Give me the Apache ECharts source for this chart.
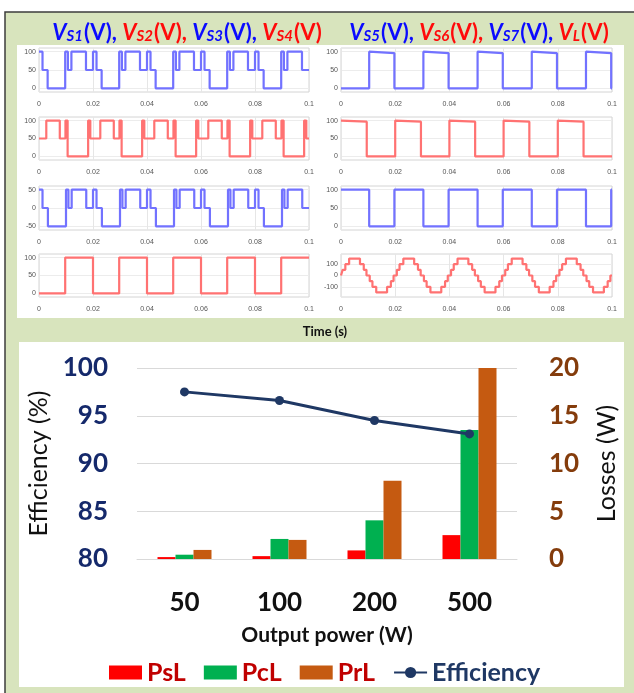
<!DOCTYPE html>
<html>
<head>
<meta charset="utf-8">
<script src="https://cdn.jsdelivr.net/npm/echarts@6.0.0/dist/echarts.min.js"></script>
<style>
  html, body { margin: 0; padding: 0; background: #fff; }
  #chart { width: 634px; height: 693px; }
</style>
</head>
<body>
<div id="chart"></div>
<script>
// ---- waveform data: one 20 ms period each, [time (s), voltage (V)] ----
const PERIOD = 0.02;
const CYCLES = 5;

const vs1Period = [[0, 100], [0.0013, 100], [0.0013, 50], [0.0032, 50], [0.0032, 0], [0.0097, 0], [0.0097, 100],
  [0.0107, 100], [0.0107, 50], [0.0120, 50], [0.0120, 100], [0.0174, 100], [0.0174, 50], [0.0200, 50]];
const vs2Period = [[0, 50], [0.0027, 50], [0.0027, 100], [0.0077, 100], [0.0077, 50], [0.0098, 50], [0.0098, 100],
  [0.0106, 100], [0.0106, 0], [0.0182, 0], [0.0182, 100], [0.0190, 100], [0.0190, 50], [0.0200, 50]];
const vs3Period = [[0, 50], [0.0013, 50], [0.0013, 0], [0.0033, 0], [0.0033, -50], [0.0100, -50], [0.0100, 50],
  [0.0109, 50], [0.0109, 0], [0.0121, 0], [0.0121, 50], [0.0175, 50], [0.0175, 0], [0.0200, 0]];
const vs4Period = [[0, 0], [0.0097, 0], [0.0097, 100], [0.0200, 100]];
const vs5Period = [[0, 0], [0.0104, 0], [0.0104, 100], [0.0197, 96], [0.0197, 0], [0.0200, 0]];
const vs6Period = [[0, 100], [0.0095, 97], [0.0095, 0], [0.0200, 0]];
const vs7Period = [[0, 100], [0.0104, 100], [0.0104, 0], [0.0197, 0], [0.0197, 100], [0.0200, 100]];
const vlPeriod = [[0, 0], [0.0006, 0], [0.0006, 50], [0.0016, 50], [0.0016, 100], [0.0030, 100], [0.0030, 150],
  [0.0070, 150], [0.0070, 100], [0.0084, 100], [0.0084, 50], [0.0094, 50], [0.0094, 0], [0.0106, 0],
  [0.0106, -50], [0.0116, -50], [0.0116, -100], [0.0130, -100], [0.0130, -150], [0.0170, -150],
  [0.0170, -100], [0.0184, -100], [0.0184, -50], [0.0194, -50], [0.0194, 0], [0.0200, 0]];

const ticks100 = [0, 50, 100];
const ticks50 = [-50, 0, 50];
const ticksVL = [-100, 0, 100];

// ---- efficiency / losses data ----
const powerLabels = ['50', '100', '200', '500'];
const psl = [0.2, 0.3, 0.9, 2.5];
const pcl = [0.45, 2.1, 4.05, 13.5];
const prl = [0.95, 2.0, 8.2, 20];
const efficiency = [97.5, 96.6, 94.5, 93.1];

const BLUE = '#7272ff';
const RED = '#ff7272';
const FONT = 'Lato, "Open Sans", sans-serif';

function repeatPeriod(pts) {
  const out = [];
  for (let k = 0; k < CYCLES; k++) {
    pts.forEach(p => out.push([+(p[0] + k * PERIOD).toFixed(5), p[1]]));
  }
  return out;
}

const panels = [
  { data: vs1Period, color: BLUE, col: 0, row: 0, min: -10, max: 110, ticks: ticks100 },
  { data: vs2Period, color: RED, col: 0, row: 1, min: -10, max: 110, ticks: ticks100 },
  { data: vs3Period, color: BLUE, col: 0, row: 2, min: -60, max: 60, ticks: ticks50 },
  { data: vs4Period, color: RED, col: 0, row: 3, min: -10, max: 110, ticks: ticks100 },
  { data: vs5Period, color: BLUE, col: 1, row: 0, min: -10, max: 110, ticks: ticks100 },
  { data: vs6Period, color: RED, col: 1, row: 1, min: -10, max: 110, ticks: ticks100 },
  { data: vs7Period, color: BLUE, col: 1, row: 2, min: -10, max: 110, ticks: ticks100 },
  { data: vlPeriod, color: RED, col: 1, row: 3, min: -190, max: 190, ticks: ticksVL }
];

const colLeft = [39, 341];
const colWidth = [270, 271];
const rowTop = [48, 117, 186, 254];
const rowHeight = [44, 43, 44, 43];

const grid = [], xAxis = [], yAxis = [], series = [];
const tickFont = { fontSize: 7, color: '#555', fontFamily: 'Arial, sans-serif' };

panels.forEach((p, i) => {
  grid.push({
    left: colLeft[p.col], width: colWidth[p.col], top: rowTop[p.row], height: rowHeight[p.row],
    show: true, borderColor: '#d4d4d4', borderWidth: 1, backgroundColor: '#fff'
  });
  xAxis.push({
    type: 'value', gridIndex: i, min: 0, max: 0.1, interval: 0.02,
    axisLine: { show: false }, axisTick: { show: false },
    axisLabel: Object.assign({ margin: 9 }, tickFont),
    splitLine: { lineStyle: { color: '#e6e6e6' } }
  });
  yAxis.push({
    type: 'value', gridIndex: i, min: p.min, max: p.max,
    axisLine: { show: false },
    axisTick: { show: false, customValues: p.ticks },
    axisLabel: Object.assign({ margin: 3, customValues: p.ticks }, tickFont),
    splitLine: { lineStyle: { color: '#ececec' } }
  });
  series.push({
    type: 'line', xAxisIndex: i, yAxisIndex: i, data: repeatPeriod(p.data),
    showSymbol: false, animation: false, silent: true,
    lineStyle: { color: p.color, width: 2.2 }
  });
});

// bottom chart
const G = panels.length;
grid.push({ left: 137, right: 117, top: 368, bottom: 134 });
xAxis.push({
  type: 'category', gridIndex: G, data: powerLabels,
  axisLine: { lineStyle: { color: '#d9d9d9' } }, axisTick: { show: false },
  axisLabel: { fontSize: 26, fontWeight: 'bold', color: '#111', fontFamily: FONT, margin: 31 },
  name: 'Output power (W)', nameLocation: 'middle', nameGap: 66,
  nameTextStyle: { fontSize: 21, fontWeight: 'bold', color: '#111', fontFamily: FONT }
});
yAxis.push({
  type: 'value', gridIndex: G, min: 80, max: 100, interval: 5,
  axisLine: { show: false }, axisTick: { show: false },
  axisLabel: { fontSize: 26, fontWeight: 'bold', color: '#15296b', fontFamily: FONT, margin: 29 },
  splitLine: { lineStyle: { color: '#d9d9d9', width: 1 } },
  name: 'Efficiency (%)', nameLocation: 'middle', nameGap: 84, nameRotate: 90,
  nameTextStyle: { fontSize: 25, color: '#111', fontFamily: FONT }
});
yAxis.push({
  type: 'value', gridIndex: G, min: 0, max: 20, interval: 5, position: 'right',
  axisLine: { show: false }, axisTick: { show: false },
  axisLabel: { fontSize: 26, fontWeight: 'bold', color: '#843c0c', fontFamily: FONT, margin: 32 },
  splitLine: { show: false },
  name: 'Losses (W)', nameLocation: 'middle', nameGap: 77, nameRotate: 90,
  nameTextStyle: { fontSize: 25, color: '#111', fontFamily: FONT }
});
const barCommon = { type: 'bar', xAxisIndex: G, yAxisIndex: G + 1, barWidth: 18, barGap: '0%', animation: false };
series.push(Object.assign({ name: 'PsL', data: psl, itemStyle: { color: '#ff0000' } }, barCommon));
series.push(Object.assign({ name: 'PcL', data: pcl, itemStyle: { color: '#00b050' } }, barCommon));
series.push(Object.assign({ name: 'PrL', data: prl, itemStyle: { color: '#c55a11' } }, barCommon));
series.push({
  name: 'Efficiency', type: 'line', xAxisIndex: G, yAxisIndex: G, data: efficiency,
  symbol: 'circle', symbolSize: 9, animation: false,
  lineStyle: { color: '#1f3864', width: 3 }, itemStyle: { color: '#1f3864' }
});

function titleRich() {
  return {
    v: { fontSize: 22, fontWeight: 'bold', fontStyle: 'italic', lineHeight: 22, verticalAlign: 'top' },
    s: { fontSize: 15, fontWeight: 'bold', fontStyle: 'italic', lineHeight: 15, padding: [12, 1, 0, 0], verticalAlign: 'bottom' },
    vn: { fontSize: 22, fontWeight: 'bold', lineHeight: 22, verticalAlign: 'top' }
  };
}
function richFor(key, color) {
  const r = {};
  const base = titleRich();
  Object.keys(base).forEach(k => { r[k + key] = Object.assign({ color: color, fontFamily: FONT }, base[k]); });
  return r;
}
const richAll = Object.assign({}, richFor('B', '#0a0aff'), richFor('R', '#ff0a0a'));

function item(colorKey, v, s, tail) {
  return `{v${colorKey}|${v}}{s${colorKey}|${s}}{vn${colorKey}|${tail}}`;
}

const option = {
  animation: false,
  textStyle: { fontFamily: FONT },
  graphic: [
    { type: 'rect', z: -100, shape: { x: 5, y: 12, width: 640, height: 700 },
      style: { fill: '#d8e4bd', stroke: '#3c3c3c', lineWidth: 1.5 } },
    { type: 'rect', z: -99, shape: { x: 17, y: 45, width: 607, height: 273 }, style: { fill: '#fff' } },
    { type: 'rect', z: -99, shape: { x: 19, y: 342, width: 605, height: 345 }, style: { fill: '#fff' } }
  ],
  title: [
    { left: 182, top: 17, textAlign: 'center',
      text: item('B', 'V', 'S1', '(V), ') + item('R', 'V', 'S2', '(V), ') + item('B', 'V', 'S3', '(V), ') + item('R', 'V', 'S4', '(V)'),
      textStyle: { rich: richAll } },
    { left: 474, top: 17, textAlign: 'center',
      text: item('B', 'V', 'S5', '(V), ') + item('R', 'V', 'S6', '(V), ') + item('B', 'V', 'S7', '(V), ') + item('R', 'V', 'L', '(V)'),
      textStyle: { rich: richAll } },
    { left: 320, top: 320, textAlign: 'center', text: 'Time (s)',
      textStyle: { fontSize: 13, fontWeight: 'bold', color: '#111', fontFamily: FONT } }
  ],
  legend: {
    left: 104, top: 655, itemWidth: 33, itemHeight: 14, itemGap: 18,
    textStyle: { fontSize: 25, fontWeight: 'bold', fontFamily: FONT },
    data: [
      { name: 'PsL', icon: 'rect', textStyle: { color: '#c00000' } },
      { name: 'PcL', icon: 'rect', textStyle: { color: '#c00000' } },
      { name: 'PrL', icon: 'rect', textStyle: { color: '#c00000' } },
      { name: 'Efficiency', textStyle: { color: '#1f3864' } }
    ]
  },
  grid, xAxis, yAxis, series
};

const chart = echarts.init(document.getElementById('chart'), null, { renderer: 'canvas' });
chart.setOption(option);
</script>
</body>
</html>
